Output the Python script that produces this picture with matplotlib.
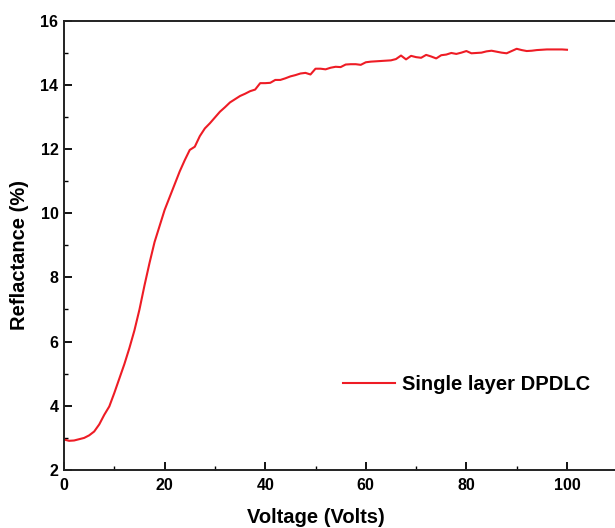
import matplotlib
matplotlib.use('Agg')
import matplotlib.pyplot as plt
from matplotlib.ticker import MultipleLocator

voltage = list(range(0, 101))
reflectance = [
    2.95, 2.91, 2.92, 2.96, 3.00, 3.08, 3.20, 3.42, 3.72, 3.98,
    4.40, 4.85, 5.30, 5.80, 6.35, 7.00, 7.75, 8.45, 9.10, 9.60,
    10.10, 10.50, 10.90, 11.30, 11.65, 11.97, 12.07, 12.40, 12.64, 12.80,
    12.98, 13.16, 13.30, 13.45, 13.55, 13.65, 13.72, 13.80, 13.85, 14.05,
    14.05, 14.06, 14.15, 14.15, 14.20, 14.26, 14.30, 14.35, 14.37, 14.32,
    14.50, 14.50, 14.48, 14.53, 14.56, 14.55, 14.63, 14.64, 14.64, 14.62,
    14.70, 14.72, 14.73, 14.74, 14.75, 14.76, 14.80, 14.91, 14.79, 14.90,
    14.86, 14.84, 14.93, 14.88, 14.82, 14.92, 14.94, 14.99, 14.96, 15.00,
    15.05, 14.98, 14.99, 15.00, 15.04, 15.06, 15.03, 15.00, 14.98, 15.05,
    15.12, 15.08, 15.05, 15.06, 15.08, 15.09, 15.10, 15.10, 15.10, 15.10,
    15.09,
]
series_label = 'Single layer DPDLC'
x_ticks = [0, 20, 40, 60, 80, 100]
y_ticks = [2, 4, 6, 8, 10, 12, 14, 16]

plt.rcParams['font.family'] = ['Liberation Sans', 'DejaVu Sans']
plt.rcParams['font.weight'] = 'bold'

fig = plt.figure(figsize=(6.15, 5.28), dpi=100)
ax = fig.add_axes([0.1041, 0.1098, 0.8996, 0.8513])

ax.plot(voltage, reflectance, color='#ee1c25', linewidth=1.5, label=series_label)

ax.set_xlim(0, 110)
ax.set_ylim(2, 16)
ax.set_xticks(x_ticks)
ax.set_yticks(y_ticks)
ax.xaxis.set_minor_locator(MultipleLocator(10))
ax.yaxis.set_minor_locator(MultipleLocator(1))
ax.tick_params(which='major', direction='in', length=6, width=1.3, labelsize=11.5, pad=6)
ax.tick_params(which='minor', direction='in', length=3, width=1.0)
ax.tick_params(axis='y', pad=4)

for side in ['left', 'bottom', 'top']:
    ax.spines[side].set_linewidth(1.4)
    ax.spines[side].set_color('#222222')
ax.spines['right'].set_visible(False)

ax.set_xlabel('Voltage (Volts)', fontsize=14.5, fontweight='bold')
ax.set_ylabel('Reflactance (%)', fontsize=14.5, fontweight='bold')
ax.xaxis.set_label_coords(0.455, -0.085)
ax.yaxis.set_label_coords(-0.063, 0.478)

ax.legend(loc='center left', bbox_to_anchor=(0.504, 0.191), frameon=False,
          borderaxespad=0, borderpad=0, handlelength=2.6, handletextpad=0.35,
          prop={'size': 14.5, 'weight': 'bold'})

fig.savefig('out.png', dpi=100)
